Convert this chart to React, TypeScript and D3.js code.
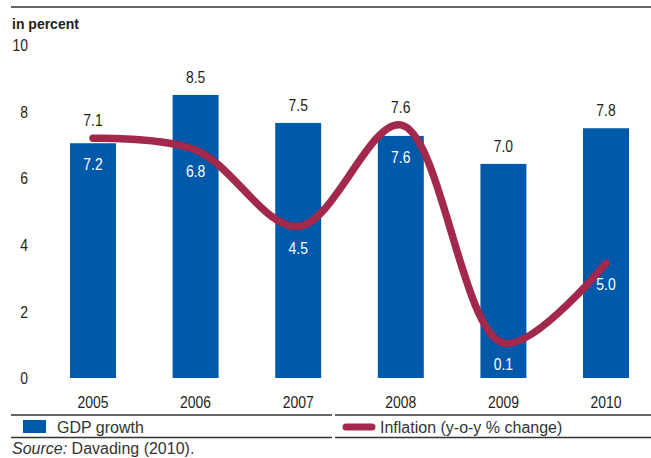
import React from 'react';
import * as d3 from 'd3';

// values as drawn in the picture
const years = ['2005', '2006', '2007', '2008', '2009', '2010'];
const gdpGrowth = [7.05, 8.5, 7.66, 7.27, 6.43, 7.5];
const gdpLabels = ['7.1', '8.5', '7.5', '7.6', '7.0', '7.8'];
const inflation = [7.2, 6.85, 4.55, 7.6, 1.05, 3.45];
const inflationLabels = ['7.2', '6.8', '4.5', '7.6', '0.1', '5.0'];
const yTicks = [0, 2, 4, 6, 8, 10];

const W = 651;
const H = 458;
const BLUE = '#0059a9';
const RED = '#a3294c';
const INK = '#231f20';
const SANS = "'Liberation Sans', Arial, sans-serif";

// condensed look: squeeze regular sans horizontally
function Narrow({ x, y, anchor = 'middle', fill = INK, children }: any) {
  return (
    <text transform={`translate(${x},${y}) scale(0.82,1)`} dy="0.36em" textAnchor={anchor}
      fontFamily={SANS} fontSize={17} fill={fill}>
      {children}
    </text>
  );
}

export default function App() {
  const x = d3.scaleBand<string>()
    .domain(years)
    .range([70, 629])
    .paddingInner(0.552)
    .paddingOuter(0);

  const y = d3.scaleLinear().domain([0, 10]).range([378, 45]);

  const cx = (i: number) => (x(years[i]) || 0) + x.bandwidth() / 2;

  const line = d3.line<number>()
    .x((_, i) => cx(i))
    .y(d => y(d))
    .curve(d3.curveCatmullRom.alpha(0.5));

  return (
    <svg width={W} height={H} style={{ position: 'absolute', left: 0, top: 0, display: 'block' }}>
      <rect width={W} height={H} fill="#fff" />
      {/* top rule */}
      <line x1={11} x2={651} y1={7} y2={7} stroke="#333" strokeWidth={1.5} />
      <text x={12} y={29} fontFamily={SANS} fontWeight="bold" fontSize={14} fill={INK}>in percent</text>

      {/* y ticks */}
      {yTicks.map(t => (
        <Narrow key={t} x={28} y={y(t)} anchor="end">{t}</Narrow>
      ))}

      {/* bars */}
      {years.map((yr, i) => (
        <rect key={yr} x={x(yr)} y={y(gdpGrowth[i])} width={x.bandwidth()} height={y(0) - y(gdpGrowth[i])} fill={BLUE} />
      ))}

      {/* inflation line */}
      <path d={line(inflation) || ''} fill="none" stroke={RED} strokeWidth={7.5} strokeLinecap="round" />

      {/* labels above */}
      {years.map((yr, i) => (
        <Narrow key={'g' + yr} x={cx(i)} y={Math.min(y(gdpGrowth[i]), y(inflation[i])) - 18}>
          {gdpLabels[i]}
        </Narrow>
      ))}

      {/* labels inside bars */}
      {years.map((yr, i) => (
        <Narrow key={'i' + yr} x={cx(i)} y={Math.max(y(gdpGrowth[i]), y(inflation[i])) + 21} fill="#fff">
          {inflationLabels[i]}
        </Narrow>
      ))}

      {/* x labels */}
      {years.map((yr, i) => (
        <Narrow key={'x' + yr} x={cx(i)} y={402}>{yr}</Narrow>
      ))}

      {/* legend */}
      <line x1={11} x2={332} y1={415} y2={415} stroke="#333" strokeWidth={1.3} />
      <line x1={335} x2={651} y1={415} y2={415} stroke="#333" strokeWidth={1.3} />
      <line x1={11} x2={332} y1={437.5} y2={437.5} stroke="#333" strokeWidth={1.3} />
      <line x1={335} x2={651} y1={437.5} y2={437.5} stroke="#333" strokeWidth={1.3} />
      <rect x={23} y={420} width={23} height={13} fill={BLUE} />
      <text x={57} y={427} dy="0.36em" fontFamily={SANS} fontSize={16} fill="#333">GDP growth</text>
      <line x1={346} x2={372} y1={427} y2={427} stroke={RED} strokeWidth={7} strokeLinecap="round" />
      <text x={380} y={427} dy="0.36em" fontFamily={SANS} fontSize={16} fill="#333">Inflation (y-o-y % change)</text>

      <text x={12} y={454} fontFamily={SANS} fontSize={16} fill="#333">
        <tspan fontStyle="italic">Source:</tspan> Davading (2010).
      </text>
    </svg>
  );
}
